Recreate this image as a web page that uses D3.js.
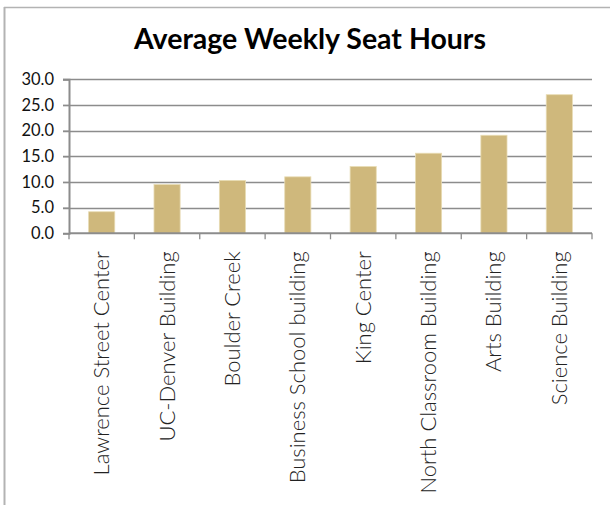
<!DOCTYPE html>
<html>
<head>
<meta charset="utf-8">
<script src="https://cdn.jsdelivr.net/npm/d3@7"></script>
<style>
  html, body { margin: 0; padding: 0; background: #fff; }
  svg { display: block; }
</style>
</head>
<body>
<script>
const categories = ["Lawrence Street Center", "UC-Denver Building", "Boulder Creek", "Business School building", "King Center", "North Classroom Building", "Arts Building", "Science Building"];
const values = [4.2, 9.5, 10.3, 11.0, 13.0, 15.6, 19.1, 27.0];
const yTicks = [0, 5, 10, 15, 20, 25, 30];
const title = "Average Weekly Seat Hours";

const W = 610, H = 505;
const svg = d3.select("body").append("svg").attr("width", W).attr("height", H);

// frame
svg.append("line").attr("x1", 4.5).attr("x2", 4.5).attr("y1", 7).attr("y2", H).attr("stroke", "#b3b3b3").attr("stroke-width", 2);
svg.append("line").attr("x1", 4).attr("x2", W).attr("y1", 7.5).attr("y2", 7.5).attr("stroke", "#b3b3b3").attr("stroke-width", 1.5);

svg.append("text").attr("x", 310).attr("y", 49).attr("text-anchor", "middle")
  .attr("font-family", "Lato, sans-serif").attr("font-weight", "bold").attr("font-size", 28.5)
  .attr("fill", "#000").text(title);

const x0 = 69, x1 = 592, yTop = 79.3, yBot = 233.3;
const x = d3.scaleBand().domain(categories).range([x0, x1]).paddingInner(0.6).paddingOuter(0.3);
const xb = d3.scaleBand().domain(categories).range([x0, x1]);
const y = d3.scaleLinear().domain([0, 30]).range([yBot, yTop]);

// gridlines
const g = svg.append("g");
g.selectAll("line.grid").data(yTicks.filter(d => d > 0)).enter().append("line")
  .attr("x1", x0 - 6).attr("x2", x1).attr("y1", d => Math.round(y(d)) + 0.5).attr("y2", d => Math.round(y(d)) + 0.5)
  .attr("stroke", "#8c8c8c").attr("stroke-width", 1.3);

// bars
svg.selectAll("rect.bar").data(values).enter().append("rect")
  .attr("x", (d, i) => x(categories[i]))
  .attr("width", x.bandwidth())
  .attr("y", d => y(d))
  .attr("height", d => yBot - y(d))
  .attr("fill", "#cfb87c")
  .attr("stroke", "#e8dcb4").attr("stroke-width", 0.8);

// y axis
const yAxis = d3.axisLeft(y).tickValues(yTicks).tickSize(6).tickFormat(d3.format(".1f"));
const ya = svg.append("g").attr("transform", `translate(${x0},0)`).call(yAxis);
ya.select(".domain").attr("stroke", "#8c8c8c").attr("stroke-width", 2);
ya.selectAll(".tick line").attr("stroke", "#8c8c8c").attr("stroke-width", 1.3);
ya.selectAll("text").attr("font-family", "Lato, sans-serif").attr("font-size", 16.5).attr("fill", "#111").attr("x", -15);

// x axis
const xAxis = d3.axisBottom(xb).tickSize(0).tickFormat("");
const xa = svg.append("g").attr("transform", `translate(0,${yBot})`).call(xAxis);
xa.select(".domain").attr("stroke", "#8c8c8c").attr("stroke-width", 2).attr("d", `M${x0},0H${x1}`);
const tickPos = categories.map(c => xb(c)).concat([x1]);
xa.selectAll("line.sep").data(tickPos).enter().append("line")
  .attr("class", "sep").attr("x1", d => d).attr("x2", d => d).attr("y1", 0).attr("y2", 6)
  .attr("stroke", "#8c8c8c").attr("stroke-width", 1.3);

// rotated labels
svg.append("g").selectAll("text").data(categories).enter().append("text")
  .attr("transform", d => `translate(${xb(d) + xb.bandwidth() / 2 + 7.5},${yBot + 18}) rotate(-90)`)
  .attr("text-anchor", "end")
  .attr("font-family", "Lato, sans-serif").attr("font-weight", 300).attr("font-size", 22)
  .attr("fill", "#222").text(d => d);
</script>
</body>
</html>
